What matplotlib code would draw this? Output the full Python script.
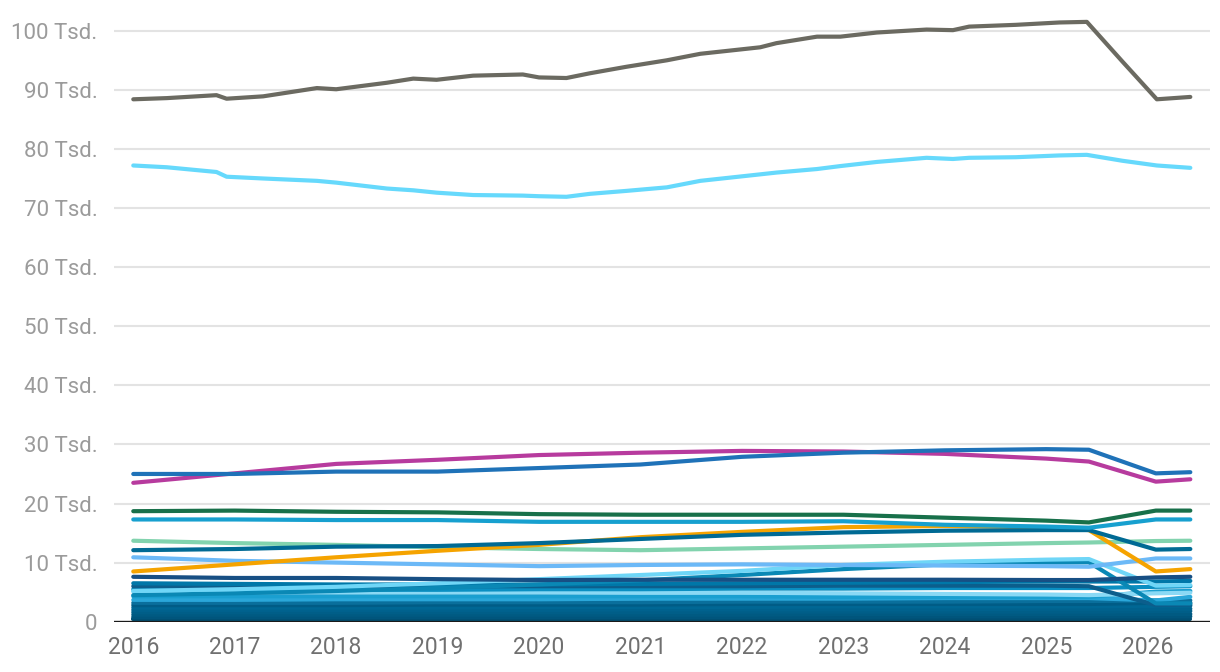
import matplotlib
matplotlib.use("Agg")
import matplotlib.pyplot as plt

# ── data (values in thousands) ───────────────────────────────────────
# fine time grid for the two big series
X_TOP = [2016.0, 2016.33, 2016.82, 2016.92, 2017.28, 2017.81, 2018.0, 2018.5,
         2018.76, 2018.99, 2019.35, 2019.84, 2020.0, 2020.27, 2020.5, 2020.86,
         2021.26, 2021.59, 2022.18, 2022.34, 2022.74, 2022.97, 2023.33, 2023.82,
         2024.08, 2024.24, 2024.7, 2025.13, 2025.4, 2025.75, 2026.09, 2026.42]
GREY = [88.4, 88.6, 89.1, 88.5, 88.9, 90.3, 90.1, 91.2,
        91.9, 91.7, 92.4, 92.6, 92.1, 92.0, 92.8, 93.9,
        95.0, 96.1, 97.2, 97.9, 99.0, 99.0, 99.7, 100.2,
        100.1, 100.7, 101.0, 101.4, 101.5, 94.8, 88.4, 88.8]
SKY = [77.2, 76.9, 76.1, 75.3, 75.0, 74.6, 74.3, 73.3,
       73.0, 72.6, 72.2, 72.1, 72.0, 71.9, 72.4, 72.9,
       73.5, 74.6, 75.7, 76.0, 76.6, 77.1, 77.8, 78.5,
       78.3, 78.5, 78.6, 78.9, 79.0, 78.0, 77.2, 76.8]

# coarse grid for all other series
X = [2016, 2017, 2018, 2019, 2020, 2021, 2022, 2023, 2024, 2025, 2025.42, 2026.08, 2026.42]

MAGENTA = [23.5, 25.1, 26.7, 27.4, 28.2, 28.6, 28.9, 28.8, 28.4, 27.6, 27.1, 23.7, 24.1]
BLUE = [25.0, 25.0, 25.4, 25.4, 26.0, 26.6, 27.9, 28.6, 29.0, 29.2, 29.1, 25.1, 25.3]
GREEN = [18.7, 18.8, 18.6, 18.5, 18.2, 18.1, 18.1, 18.1, 17.6, 17.1, 16.8, 18.8, 18.8]
CERULEAN = [17.3, 17.3, 17.2, 17.2, 16.9, 16.9, 16.9, 17.0, 16.4, 16.1, 15.9, 17.3, 17.3]
MINT = [13.7, 13.3, 13.0, 12.6, 12.3, 12.1, 12.4, 12.7, 13.0, 13.3, 13.4, 13.65, 13.7]
ORANGE = [8.5, 9.7, 10.9, 12.0, 13.0, 14.3, 15.2, 16.0, 16.2, 16.0, 15.5, 8.5, 8.9]
PETROL = [12.1, 12.3, 12.7, 12.8, 13.3, 14.0, 14.7, 15.1, 15.4, 15.5, 15.5, 12.2, 12.3]
LIGHTBLUE = [10.9, 10.3, 10.0, 9.7, 9.4, 9.6, 9.7, 9.6, 9.5, 9.4, 9.3, 10.7, 10.7]
NAVY = [7.6, 7.4, 7.4, 7.2, 7.05, 7.1, 7.1, 7.1, 7.1, 7.05, 7.05, 7.5, 7.6]
ICE = [5.2, 5.5, 5.9, 6.5, 7.2, 7.9, 8.6, 9.6, 10.15, 10.5, 10.6, 6.1, 6.2]
TEAL = [4.5, 4.8, 5.2, 5.7, 6.3, 7.0, 7.9, 8.9, 9.7, 10.0, 10.05, 3.1, 3.1]

# bottom bundle of small series
B01 = [6.5, 6.4, 6.3, 6.3, 6.3, 6.4, 6.5, 6.6, 6.7, 6.8, 6.8, 6.8, 6.9]
B02 = [6.0, 6.0, 6.0, 6.0, 6.0, 6.0, 6.0, 6.1, 6.1, 6.1, 6.0, 2.8, 2.9]
B03 = [5.5, 5.5, 5.4, 5.4, 5.5, 5.5, 5.6, 5.6, 5.7, 5.7, 5.7, 5.9, 6.0]
B04 = [5.1, 5.1, 5.0, 5.0, 5.0, 4.9, 4.9, 4.8, 4.7, 4.6, 4.5, 4.8, 4.9]
B05 = [4.3, 4.3, 4.3, 4.3, 4.3, 4.3, 4.3, 4.2, 4.2, 4.2, 4.2, 5.1, 5.2]
B06 = [3.7, 3.7, 3.8, 3.8, 3.8, 3.9, 3.9, 3.9, 4.0, 4.0, 4.0, 3.6, 4.2]
B07 = [3.2, 3.2, 3.2, 3.3, 3.3, 3.3, 3.4, 3.4, 3.4, 3.5, 3.5, 3.6, 3.6]
B08 = [2.8, 2.8, 2.8, 2.9, 2.9, 2.9, 3.0, 3.0, 3.0, 3.0, 3.0, 3.2, 3.2]
B09 = [2.4, 2.4, 2.4, 2.4, 2.5, 2.5, 2.5, 2.6, 2.6, 2.6, 2.6, 2.7, 2.7]
B10 = [2.0, 2.0, 2.0, 2.0, 2.0, 2.1, 2.1, 2.1, 2.1, 2.2, 2.2, 2.2, 2.2]
B11 = [1.6, 1.6, 1.6, 1.6, 1.6, 1.6, 1.7, 1.7, 1.7, 1.7, 1.7, 1.8, 1.8]
B12 = [1.2, 1.2, 1.2, 1.2, 1.2, 1.2, 1.2, 1.3, 1.3, 1.3, 1.3, 1.3, 1.3]
B13 = [0.8, 0.8, 0.8, 0.8, 0.8, 0.8, 0.8, 0.8, 0.9, 0.9, 0.9, 0.9, 0.9]
B14 = [0.4, 0.4, 0.4, 0.4, 0.4, 0.4, 0.4, 0.4, 0.4, 0.4, 0.4, 0.4, 0.4]

YTICKS = [0, 10, 20, 30, 40, 50, 60, 70, 80, 90, 100]
YLABELS = ["0", "10 Tsd.", "20 Tsd.", "30 Tsd.", "40 Tsd.", "50 Tsd.",
           "60 Tsd.", "70 Tsd.", "80 Tsd.", "90 Tsd.", "100 Tsd."]
XTICKS = [2016, 2017, 2018, 2019, 2020, 2021, 2022, 2023, 2024, 2025, 2026]

# ── style ───────────────────────────────────────────────────────────
plt.rcParams["font.family"] = ["Roboto", "DejaVu Sans"]
LW = 3.0

# (series, colour) in draw order, bottom bundle first
BUNDLE = [
    (B14, "#004f73"), (B13, "#00557c"), (B12, "#005a82"), (B11, "#005e88"),
    (B10, "#00628e"), (B09, "#006794"), (B08, "#005c86"), (B07, "#0a6f9c"),
    (B06, "#2aa7d9"), (B05, "#1a9fd0"), (B04, "#8ad9f5"), (B03, "#0a8fc2"),
    (B02, "#0c5e8c"), (B01, "#0077a8"),
]
MAIN = [
    (TEAL, "#0a88b5"), (ICE, "#6fd6f7"), (NAVY, "#174f84"),
    (LIGHTBLUE, "#6cb9f7"), (MINT, "#82d3ae"), (ORANGE, "#f5a300"),
    (PETROL, "#006a94"), (CERULEAN, "#17a0cf"), (GREEN, "#18704a"),
    (MAGENTA, "#b73b9e"), (BLUE, "#1f72b8"),
]

fig = plt.figure(figsize=(12.2, 6.72), dpi=100)
ax = fig.add_axes([114 / 1220, 50.3 / 672, 1096 / 1220, 614 / 672])

for vals, col in BUNDLE + MAIN:
    ax.plot(X, vals, color=col, lw=LW, solid_capstyle="round", solid_joinstyle="round")
ax.plot(X_TOP, SKY, color="#66d9fc", lw=LW, solid_capstyle="round")
ax.plot(X_TOP, GREY, color="#6b6a61", lw=LW, solid_capstyle="round")

ax.set_xlim(2015.81, 2026.614)
ax.set_ylim(0, 103.9)
ax.set_yticks(YTICKS)
ax.set_yticklabels(YLABELS)
ax.set_xticks(XTICKS)
ax.set_xticklabels([str(y) for y in XTICKS])

ax.grid(axis="y", color="#e3e3e3", lw=1.5, zorder=0)
ax.set_axisbelow(True)
ax.axhline(0, color="#1a1a1a", lw=2.4, zorder=5)
for s in ax.spines.values():
    s.set_visible(False)

ax.tick_params(axis="y", length=0, pad=12, labelsize=16, labelcolor="#9b9b9b")
ax.tick_params(axis="x", length=0, pad=10, labelsize=16.5, labelcolor="#707070")

fig.savefig("out.png", dpi=100, facecolor="white")
